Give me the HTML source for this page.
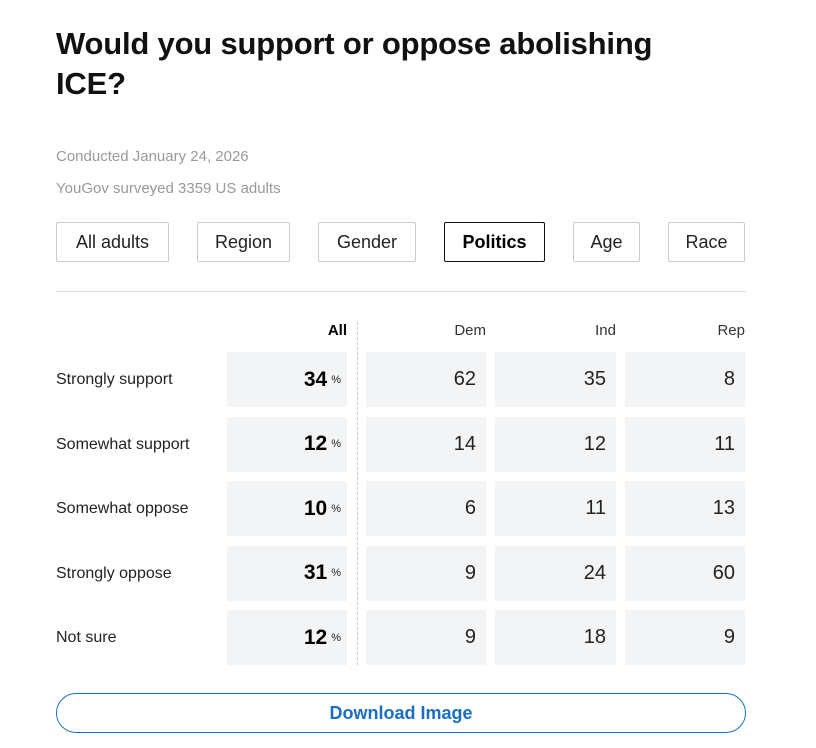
<!DOCTYPE html>
<html><head><style>
body{margin:0;background:#fff;font-family:"Liberation Sans",sans-serif;color:#111;}
.w{position:relative;width:816px;height:748px;}
h1{position:absolute;left:56px;top:24px;margin:0;font-size:31px;line-height:40px;font-weight:bold;width:650px;letter-spacing:-0.2px}
.m{position:absolute;left:56px;font-size:15px;color:#999}
.b{position:absolute;top:222px;height:40px;box-sizing:border-box;border:1px solid #ccc;border-radius:2px;font-size:18px;display:flex;align-items:center;justify-content:center;color:#222}
.hr{position:absolute;left:56px;top:291px;width:690px;height:1px;background:#ddd}
.c{position:absolute;height:55px;background:#f3f4f5;box-sizing:border-box;display:flex;align-items:center;justify-content:flex-end;padding-right:10px;font-size:20px;color:#222}
.l{position:absolute;left:56px;font-size:16px;color:#222}
.h{position:absolute;top:322px;font-size:15px;color:#333;text-align:right}
</style></head><body><div class="w">
<h1>Would you support or oppose abolishing ICE?</h1>
<div class="m" style="top:148px">Conducted January 24, 2026</div>
<div class="m" style="top:180px">YouGov surveyed 3359 US adults</div>
<div class="b" style="left:56px;width:113px">All adults</div>
<div class="b" style="left:197px;width:93px">Region</div>
<div class="b" style="left:318px;width:98px">Gender</div>
<div class="b" style="left:444px;width:101px;border-color:#111;font-weight:bold;color:#000">Politics</div>
<div class="b" style="left:573px;width:67px">Age</div>
<div class="b" style="left:668px;width:77px">Race</div>
<div class="hr"></div>
<div class="h" style="left:247px;width:100px;font-weight:bold;color:#000">All</div>
<div class="h" style="left:386px;width:100px">Dem</div>
<div class="h" style="left:516px;width:100px">Ind</div>
<div class="h" style="left:645px;width:100px">Rep</div>
<div style="position:absolute;left:357px;top:322px;height:343px;border-left:1px dashed #ccc"></div>
<div id="rows"></div>
<div style="position:absolute;left:56px;top:693px;width:690px;height:40px;box-sizing:border-box;border:1px solid #1a6fc4;border-radius:20px;color:#1a6fc4;font-weight:bold;font-size:18px;display:flex;align-items:center;justify-content:center">Download Image</div>
<script>
var d=[["Strongly support",34,62,35,8],["Somewhat support",12,14,12,11],["Somewhat oppose",10,6,11,13],["Strongly oppose",31,9,24,60],["Not sure",12,9,18,9]];
var h="";d.forEach(function(r,i){var y=352+i*64.5;
h+='<div class="l" style="top:'+(y+19)+'px">'+r[0]+'</div>';
h+='<div class="c" style="left:227px;top:'+y+'px;width:120px;padding-right:6px"><b style="font-size:21px;color:#000">'+r[1]+'</b><span style="font-size:11px;margin-left:4px">%</span></div>';
[366,495,625].forEach(function(x,j){h+='<div class="c" style="left:'+x+'px;top:'+y+'px;width:'+(j==1?121:120)+'px">'+r[j+2]+'</div>';});});
document.getElementById("rows").innerHTML=h;
</script>
</div></body></html>
